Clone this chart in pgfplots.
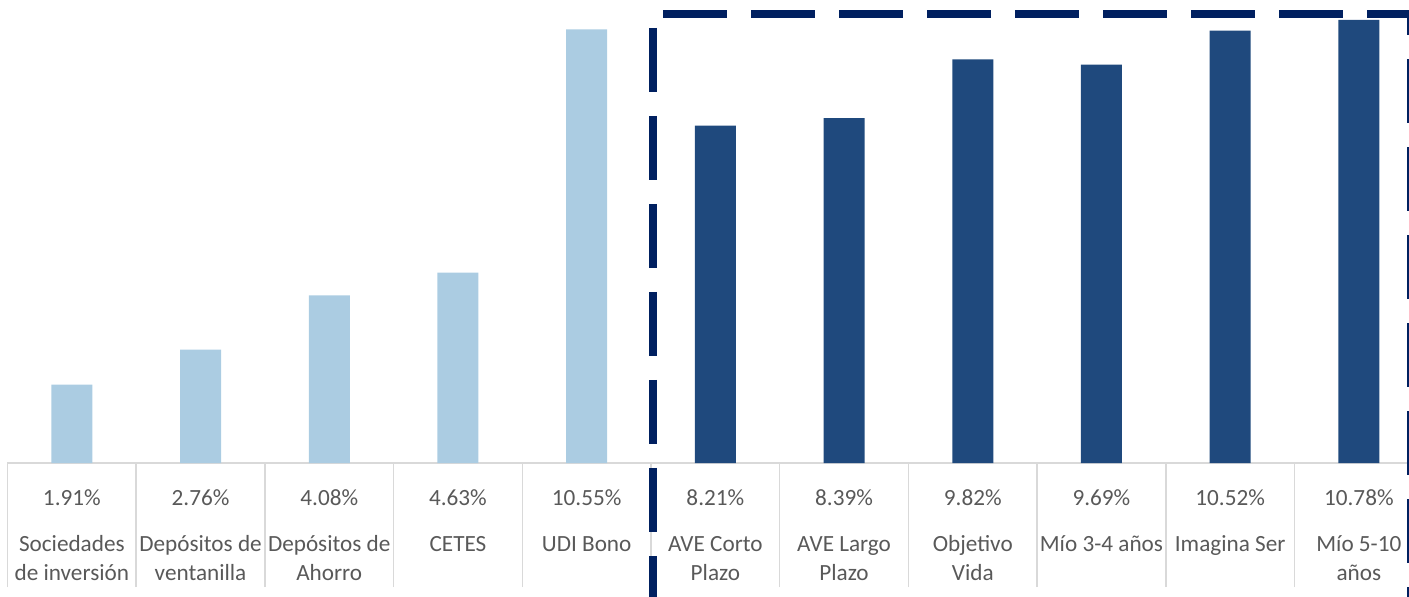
\documentclass[border=0pt]{standalone}
\usepackage{pgfplots}
\pgfplotsset{compat=1.18}
\usepackage{fontspec}
\setmainfont{Carlito}
\definecolor{lightbar}{RGB}{171,204,226}
\definecolor{darkbar}{RGB}{31,73,125}
\definecolor{navy}{RGB}{0,32,96}
\definecolor{gridgray}{RGB}{217,217,217}
\definecolor{txtgray}{RGB}{89,89,89}
\begin{document}
\begin{tikzpicture}
\begin{axis}[
 scale only axis, width=707.85pt, height=231.5pt,
 xmin=-0.5, xmax=10.5, ymin=0, ymax=11.265,
 axis x line*=bottom, axis y line=none,
 axis line style={draw=gridgray, line width=0.75pt, -},
 xtick={0,...,10},
 xticklabels={{1.91\%\\[8.5pt]Sociedades\\de inversión},
   {2.76\%\\[8.5pt]Depósitos de\\ventanilla},
   {4.08\%\\[8.5pt]Depósitos de\\Ahorro},
   {4.63\%\\[8.5pt]CETES},
   {10.55\%\\[8.5pt]UDI Bono},
   {8.21\%\\[8.5pt]AVE Corto\\Plazo},
   {8.39\%\\[8.5pt]AVE Largo\\Plazo},
   {9.82\%\\[8.5pt]Objetivo\\Vida},
   {9.69\%\\[8.5pt]Mío 3-4 años},
   {10.52\%\\[8.5pt]Imagina Ser},
   {10.78\%\\[8.5pt]Mío 5-10\\años}},
 tick align=outside,
 major tick length=0pt,
 extra x ticks={-0.5,0.5,1.5,2.5,3.5,4.5,5.5,6.5,7.5,8.5,9.5,10.5},
 extra x tick labels={},
 extra x tick style={major tick length=62pt, tick style={draw=gridgray, line width=0.75pt}},
 xticklabel style={anchor=north, align=center, inner sep=0pt, yshift=-13pt, font=\fontsize{11.6}{14.5}\selectfont, text=txtgray},
 ybar, bar width=20.5pt, bar shift=0pt,
 clip=false,
]
\addplot[fill=lightbar, draw=none] coordinates {(0,1.91) (1,2.76) (2,4.08) (3,4.63) (4,10.55)};
\addplot[fill=darkbar, draw=none] coordinates {(5,8.21) (6,8.39) (7,9.82) (8,9.69) (9,10.52) (10,10.78)};
\draw[navy, line width=4pt, dash pattern=on 32pt off 12pt, dash phase=37pt] (axis cs:4.516,10.925) -- (axis cs:4.516,-4);
\draw[navy, line width=4pt, dash pattern=on 32pt off 12pt, dash phase=39pt] (axis cs:4.516,10.925) -- (axis cs:10.6,10.925);
\draw[navy, line width=4pt, dash pattern=on 32pt off 12pt, dash phase=21.5pt] (axis cs:10.403,10.925) -- (axis cs:10.403,-4);
\end{axis}
\pgfresetboundingbox
\path[use as bounding box] (-3.75pt,-66.5pt) rectangle (700.75pt,231.5pt);
\end{tikzpicture}
\end{document}
